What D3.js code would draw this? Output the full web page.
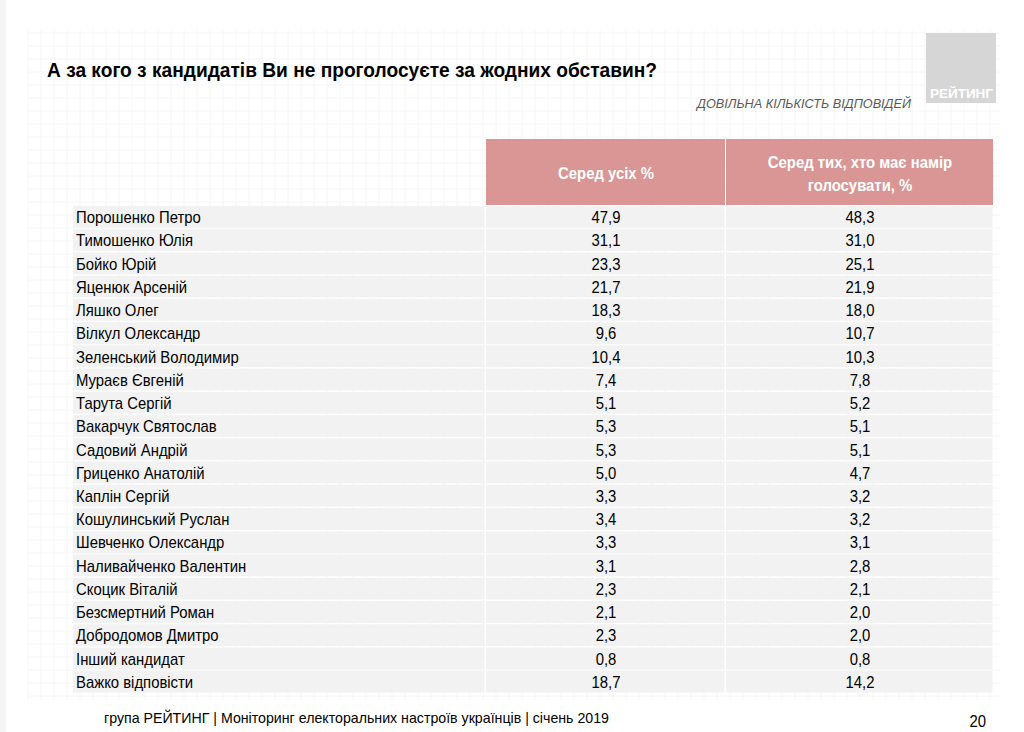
<!DOCTYPE html>
<html>
<head>
<meta charset="utf-8">
<script src="https://cdn.jsdelivr.net/npm/d3@7"></script>
<style>
  body { margin: 0; background: #fff; }
  svg { display: block; font-family: "Liberation Sans", Arial, sans-serif; }
</style>
</head>
<body>
<div id="slide"></div>
<script>
// table data
const candidates = ["Порошенко Петро", "Тимошенко Юлія", "Бойко Юрій", "Яценюк Арсеній", "Ляшко Олег",
  "Вілкул Олександр", "Зеленський Володимир", "Мураєв Євгеній", "Тарута Сергій", "Вакарчук Святослав",
  "Садовий Андрій", "Гриценко Анатолій", "Каплін Сергій", "Кошулинський Руслан", "Шевченко Олександр",
  "Наливайченко Валентин", "Скоцик Віталій", "Безсмертний Роман", "Добродомов Дмитро", "Інший кандидат",
  "Важко відповісти"]
const amongAll = [47.9, 31.1, 23.3, 21.7, 18.3, 9.6, 10.4, 7.4, 5.1, 5.3, 5.3, 5.0, 3.3, 3.4, 3.3, 3.1, 2.3, 2.1, 2.3, 0.8, 18.7]
const amongVoters = [48.3, 31.0, 25.1, 21.9, 18.0, 10.7, 10.3, 7.8, 5.2, 5.1, 5.1, 4.7, 3.2, 3.2, 3.1, 2.8, 2.1, 2.0, 2.0, 0.8, 14.2]
const columns = ["name", "all", "voters"]
const headers = [[], ["Серед усіх %"], ["Серед тих, хто має намір", "голосувати, %"]]

const title = "А за кого з кандидатів Ви не проголосуєте за жодних обставин?"
const note = "ДОВІЛЬНА КІЛЬКІСТЬ ВІДПОВІДЕЙ"
const footer = "група РЕЙТИНГ |  Моніторинг електоральних настроїв українців  |  січень 2019"
const pageNo = "20"

const W = 1024, H = 732
const squeeze = 0.93   // the slide font is a little narrower than Liberation Sans

let svg = d3.select("#slide")
    .append("svg")
    .attr("width", W)
    .attr("height", H)

// faint background grid texture
const bg = svg.append("g").attr("stroke", "#f6f6f6").attr("stroke-width", 1)
bg.selectAll("line.v")
    .data(d3.range(28, 1000, 13))
    .join("line")
    .attr("x1", d => d).attr("x2", d => d)
    .attr("y1", 30).attr("y2", 700)
bg.selectAll("line.h")
    .data(d3.range(33, 700, 13))
    .join("line")
    .attr("x1", 28).attr("x2", 1000)
    .attr("y1", d => d).attr("y2", d => d)
svg.append("rect").attr("x", 0).attr("y", 0).attr("width", 6).attr("height", H).attr("fill", "#f5f5f5")

// logo
svg.append("rect")
    .attr("x", 926).attr("y", 33).attr("width", 70).attr("height", 70)
    .attr("fill", "#d6d6d6")
svg.append("text")
    .attr("x", 930).attr("y", 98)
    .attr("fill", "#fff")
    .attr("font-weight", "bold")
    .attr("font-size", 13)
    .attr("textLength", 63)
    .attr("lengthAdjust", "spacingAndGlyphs")
    .text("РЕЙТИНГ")

// title
svg.append("text")
    .attr("x", 47).attr("y", 77)
    .attr("font-size", 20)
    .attr("font-weight", "bold")
    .attr("fill", "#000")
    .attr("textLength", 610)
    .attr("lengthAdjust", "spacingAndGlyphs")
    .text(title)

svg.append("text")
    .attr("x", 697).attr("y", 108)
    .attr("font-size", 13)
    .attr("font-style", "italic")
    .attr("fill", "#595959")
    .attr("textLength", 214)
    .attr("lengthAdjust", "spacingAndGlyphs")
    .text(note)

// table scales
const rows = candidates.map((c, i) => ({name: c, all: amongAll[i], voters: amongVoters[i]}))
const y = d3.scaleBand()
    .domain(candidates)
    .range([206, 694])
const colLeft = d3.scaleOrdinal().domain(columns).range([73, 486, 726])
const colRight = d3.scaleOrdinal().domain(columns).range([486, 726, 994])
const fmt = v => d3.format(".1f")(v).replace(".", ",")

// header cells
const head = svg.append("g")
head.selectAll("rect")
    .data(columns.slice(1))
    .join("rect")
    .attr("x", d => colLeft(d))
    .attr("y", 139)
    .attr("width", d => colRight(d) - colLeft(d) - 1)
    .attr("height", 66)
    .attr("fill", "#d99694")
head.selectAll("text")
    .data(columns.slice(1))
    .join("text")
    .attr("transform", (d, i) => `translate(${(colLeft(d) + colRight(d)) / 2}, ${headers[i + 1].length > 1 ? 167.5 : 178.5}) scale(${squeeze},1)`)
    .attr("text-anchor", "middle")
    .attr("fill", "#fff")
    .attr("font-weight", "bold")
    .attr("font-size", 16)
    .selectAll("tspan")
    .data((d, i) => headers[i + 1])
    .join("tspan")
    .attr("x", 0)
    .attr("dy", (d, i) => i ? 24 : 0)
    .text(d => d)

// body cells
const body = svg.append("g")
const cells = rows.flatMap(r => columns.map(c => ({row: r.name, col: c, value: r[c]})))
body.selectAll("rect")
    .data(cells)
    .join("rect")
    .attr("x", d => colLeft(d.col))
    .attr("y", d => y(d.row))
    .attr("width", d => colRight(d.col) - colLeft(d.col) - 1.5)
    .attr("height", y.bandwidth() - 1.5)
    .attr("fill", "#f2f2f2")
body.selectAll("text")
    .data(cells)
    .join("text")
    .attr("transform", d => {
        const tx = d.col === "name" ? colLeft(d.col) + 3 : (colLeft(d.col) + colRight(d.col)) / 2
        return `translate(${tx}, ${y(d.row) + y.bandwidth() / 2 + 5.5}) scale(${squeeze},1)`
    })
    .attr("text-anchor", d => d.col === "name" ? "start" : "middle")
    .attr("font-size", 16)
    .attr("fill", "#000")
    .text(d => d.col === "name" ? d.value : fmt(d.value))

// footer
svg.append("text")
    .attr("x", 104).attr("y", 723)
    .attr("font-size", 15)
    .attr("fill", "#000")
    .attr("textLength", 505)
    .attr("lengthAdjust", "spacingAndGlyphs")
    .text(footer)
svg.append("text")
    .attr("transform", `translate(986, 727) scale(${squeeze},1)`)
    .attr("text-anchor", "end")
    .attr("font-size", 16)
    .attr("fill", "#000")
    .text(pageNo)
</script>
</body>
</html>
